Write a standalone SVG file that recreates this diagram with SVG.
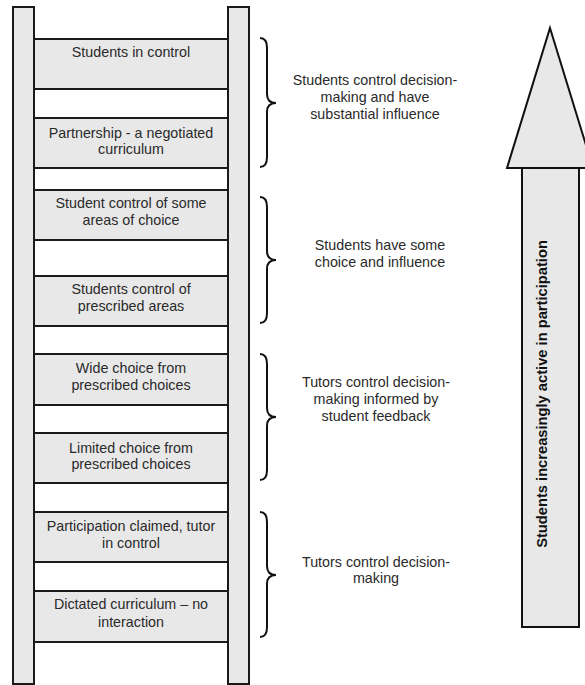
<svg xmlns="http://www.w3.org/2000/svg" width="585" height="685" viewBox="0 0 585 685">
<style>
.bg{fill:#ffffff}
.rail{fill:#e8e8e8;stroke:#1a1a1a;stroke-width:2}
.rung{fill:#e8e8e8;stroke:#1a1a1a;stroke-width:2}
.t{font-family:"Liberation Sans",Arial,sans-serif;font-size:14.3px;fill:#2a2a2a;text-anchor:middle}
.brace{fill:none;stroke:#111;stroke-width:2}
.arrow{fill:#e8e8e8;stroke:#111;stroke-width:2;stroke-linejoin:miter}
.vt{font-family:"Liberation Sans",Arial,sans-serif;font-size:14.7px;font-weight:bold;fill:#111;text-anchor:middle}
</style>
<rect class="bg" x="0" y="0" width="585" height="685"/>
<g id="ladder">
<rect class="rail" x="13" y="7" width="21" height="677"/>
<rect class="rail" x="228" y="7" width="21" height="677"/>
</g>
<g id="rung1"><rect class="rung" x="34" y="39" width="194" height="50"/><text class="t" x="131" y="57">Students in control</text></g>
<g id="rung2"><rect class="rung" x="34" y="118" width="194" height="50"/><text class="t" x="131" y="138">Partnership - a negotiated</text><text class="t" x="131" y="154">curriculum</text></g>
<g id="rung3"><rect class="rung" x="34" y="190" width="194" height="50"/><text class="t" x="131" y="208">Student control of some</text><text class="t" x="131" y="225">areas of choice</text></g>
<g id="rung4"><rect class="rung" x="34" y="276" width="194" height="50"/><text class="t" x="131" y="294">Students control of</text><text class="t" x="131" y="311">prescribed areas</text></g>
<g id="rung5"><rect class="rung" x="34" y="354" width="194" height="51"/><text class="t" x="131" y="373">Wide choice from</text><text class="t" x="131" y="390">prescribed choices</text></g>
<g id="rung6"><rect class="rung" x="34" y="433" width="194" height="50"/><text class="t" x="131" y="453">Limited choice from</text><text class="t" x="131" y="469">prescribed choices</text></g>
<g id="rung7"><rect class="rung" x="34" y="512" width="194" height="50"/><text class="t" x="131" y="531">Participation claimed, tutor</text><text class="t" x="131" y="548">in control</text></g>
<g id="rung8"><rect class="rung" x="34" y="591" width="194" height="51"/><text class="t" x="131" y="609">Dictated curriculum – no</text><text class="t" x="131" y="627">interaction</text></g>
<g id="connectors">
<path class="brace" d="M260,38 Q267,38 267,48 L267,94 Q267,103 276,103 Q267,103 267,112 L267,157 Q267,167 260,167"/>
<path class="brace" d="M260,197 Q267,197 267,207 L267,251 Q267,260 276,260 Q267,260 267,269 L267,313 Q267,323 260,323"/>
<path class="brace" d="M260,354 Q267,354 267,364 L267,408 Q267,417 276,417 Q267,417 267,426 L267,470 Q267,480 260,480"/>
<path class="brace" d="M260,512 Q267,512 267,522 L267,566 Q267,575 276,575 Q267,575 267,584 L267,627 Q267,637 260,637"/>
</g>
<g id="label1"><text class="t" x="375" y="85">Students control decision-</text><text class="t" x="375" y="102">making and have</text><text class="t" x="375" y="119">substantial influence</text></g>
<g id="label2"><text class="t" x="380" y="250">Students have some</text><text class="t" x="380" y="267">choice and influence</text></g>
<g id="label3"><text class="t" x="376" y="387">Tutors control decision-</text><text class="t" x="376" y="404">making informed by</text><text class="t" x="376" y="421">student feedback</text></g>
<g id="label4"><text class="t" x="376" y="567">Tutors control decision-</text><text class="t" x="376" y="583">making</text></g>
<g id="arrow">
<rect class="arrow" x="522" y="168" width="57" height="459"/>
<polygon class="arrow" points="550,28 593,168 507,168"/>
<text class="vt" transform="translate(547,394) rotate(-90)">Students increasingly active in participation</text>
</g>
</svg>
